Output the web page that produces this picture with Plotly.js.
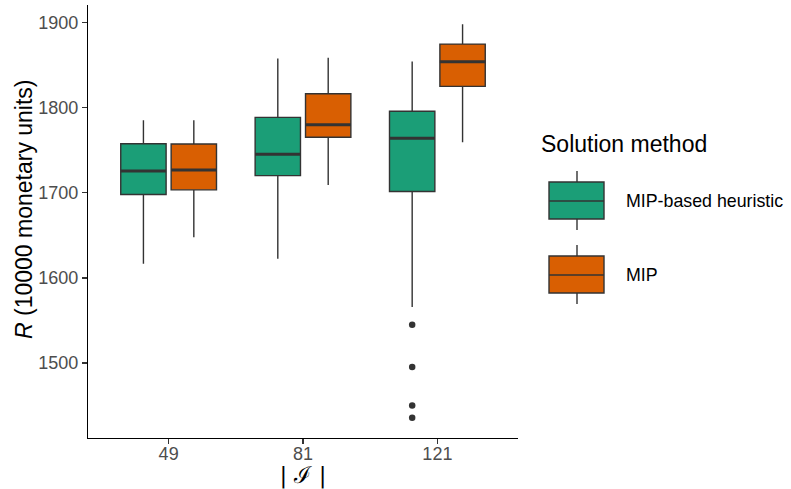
<!DOCTYPE html>
<html>
<head>
<meta charset="utf-8">
<script src="https://cdn.plot.ly/plotly-3.0.1.min.js"></script>
<style>html,body{margin:0;padding:0;background:#fff;}#chart{width:791px;height:489px;}</style>
</head>
<body>
<div id="chart"></div>
<script>
// ---- data ----
const categories = ['49', '81', '121'];
const methods = ['MIP-based heuristic', 'MIP'];

const heurLower  = [1616.7, 1622.6, 1565.8];
const heurQ1     = [1698.1, 1720.4, 1701.6];
const heurMedian = [1725.9, 1745.5, 1764.3];
const heurQ3     = [1757.9, 1788.9, 1796.0];
const heurUpper  = [1785.4, 1858.2, 1854.7];

const mipLower  = [1648.0, 1709.4, 1759.6];
const mipQ1     = [1703.6, 1765.4, 1825.3];
const mipMedian = [1727.0, 1780.2, 1854.2];
const mipQ3     = [1757.6, 1816.6, 1875.0];
const mipUpper  = [1785.4, 1858.9, 1898.5];

// outliers of the heuristic (only at |I| = 121)
const heurOutlierCat = ['121', '121', '121', '121'];
const heurOutlierVal = [1545.1, 1495.4, 1450.0, 1435.5];

// ---- styles ----
const colors = ['#1B9E77', '#D95F02'];
const edge = '#333333';
const font = 'Liberation Sans, Arial, sans-serif';

function boxTrace(name, group, col, lo, q1, med, q3, up) {
  return {
    type: 'box', name: name, x: categories,
    q1: q1, median: med, q3: q3, lowerfence: lo, upperfence: up,
    offsetgroup: group, fillcolor: col,
    line: {color: edge, width: 1.4}, whiskerwidth: 0,
    boxpoints: false,
    showlegend: false, hoverinfo: 'skip'
  };
}
function medianTrace(group, med) {
  return {
    type: 'box', x: categories,
    q1: med, median: med, q3: med, lowerfence: med, upperfence: med,
    offsetgroup: group, fillcolor: 'rgba(0,0,0,0)',
    line: {color: edge, width: 3}, whiskerwidth: 0, boxpoints: false,
    showlegend: false, hoverinfo: 'skip'
  };
}
function pointsTrace(group, cats, vals) {
  return {
    type: 'box', x: cats, y: vals, offsetgroup: group,
    fillcolor: 'rgba(0,0,0,0)', line: {color: 'rgba(0,0,0,0)', width: 0},
    boxpoints: 'all', jitter: 0, pointpos: 0,
    marker: {color: edge, size: 6.5, line: {width: 0}},
    showlegend: false, hoverinfo: 'skip'
  };
}

const data = [
  boxTrace(methods[0], 'h', colors[0], heurLower, heurQ1, heurMedian, heurQ3, heurUpper),
  boxTrace(methods[1], 'm', colors[1], mipLower, mipQ1, mipMedian, mipQ3, mipUpper),
  medianTrace('h', heurMedian),
  medianTrace('m', mipMedian),
  pointsTrace('h', heurOutlierCat, heurOutlierVal)
];

// ---- custom legend (pixel -> paper helpers) ----
const M = {l: 88, r: 273, t: 5, b: 51};
const PW = 791 - M.l - M.r, PH = 489 - M.t - M.b;
const px = v => (v - M.l) / PW;
const py = v => (489 - M.b - v) / PH;

const shapes = [];
const annotations = [];
const keyTops = [182, 256];
methods.forEach((m, i) => {
  const top = keyTops[i], bot = top + 37, mid = top + 19;
  shapes.push({type: 'line', xref: 'paper', yref: 'paper', x0: px(577), x1: px(577), y0: py(top - 11), y1: py(bot + 11), line: {color: edge, width: 1.4}});
  shapes.push({type: 'rect', xref: 'paper', yref: 'paper', x0: px(549), x1: px(604), y0: py(bot), y1: py(top), fillcolor: colors[i], line: {color: edge, width: 1.4}});
  shapes.push({type: 'line', xref: 'paper', yref: 'paper', x0: px(549), x1: px(604), y0: py(mid), y1: py(mid), line: {color: edge, width: 1.6}});
  annotations.push({xref: 'paper', yref: 'paper', x: px(624), y: py(mid), xanchor: 'left', yanchor: 'middle', showarrow: false, text: m, font: {family: font, size: 17.8, color: '#000'}});
});
annotations.push({xref: 'paper', yref: 'paper', x: px(539), y: py(144), xanchor: 'left', yanchor: 'middle', showarrow: false, text: 'Solution method', font: {family: font, size: 23, color: '#000'}});
// y-axis title
annotations.push({xref: 'paper', yref: 'paper', x: px(24), y: py(209), xanchor: 'center', yanchor: 'middle', textangle: -90, showarrow: false, text: '<i>R</i> (10000 monetary units)', font: {family: font, size: 23, color: '#000'}});

const layout = {
  width: 791, height: 489,
  margin: M,
  paper_bgcolor: '#fff', plot_bgcolor: '#fff',
  boxmode: 'group', boxgap: 0.25, boxgroupgap: 0.1,
  showlegend: false,
  font: {family: font},
  xaxis: {
    type: 'category', range: [-0.6, 2.6],
    showgrid: false, zeroline: false,
    showline: true, linecolor: '#000', linewidth: 1.1,
    ticks: 'outside', ticklen: 5, tickcolor: edge, tickwidth: 1.1,
    ticklabelstandoff: -6,
    tickfont: {family: font, size: 18, color: '#4D4D4D'},
    title: {text: '| ℐ |', font: {family: 'DejaVu Serif, serif', size: 23, color: '#000'}, standoff: 4},
    automargin: false
  },
  yaxis: {
    range: [1411.8, 1921], tickvals: [1500, 1600, 1700, 1800, 1900],
    showgrid: false, zeroline: false,
    showline: true, linecolor: '#000', linewidth: 1.1,
    ticks: 'outside', ticklen: 5, tickcolor: edge, tickwidth: 1.1,
    tickfont: {family: font, size: 18, color: '#4D4D4D'},
    automargin: false
  },
  shapes: shapes,
  annotations: annotations
};

Plotly.newPlot('chart', data, layout, {displayModeBar: false, staticPlot: true});
</script>
</body>
</html>
